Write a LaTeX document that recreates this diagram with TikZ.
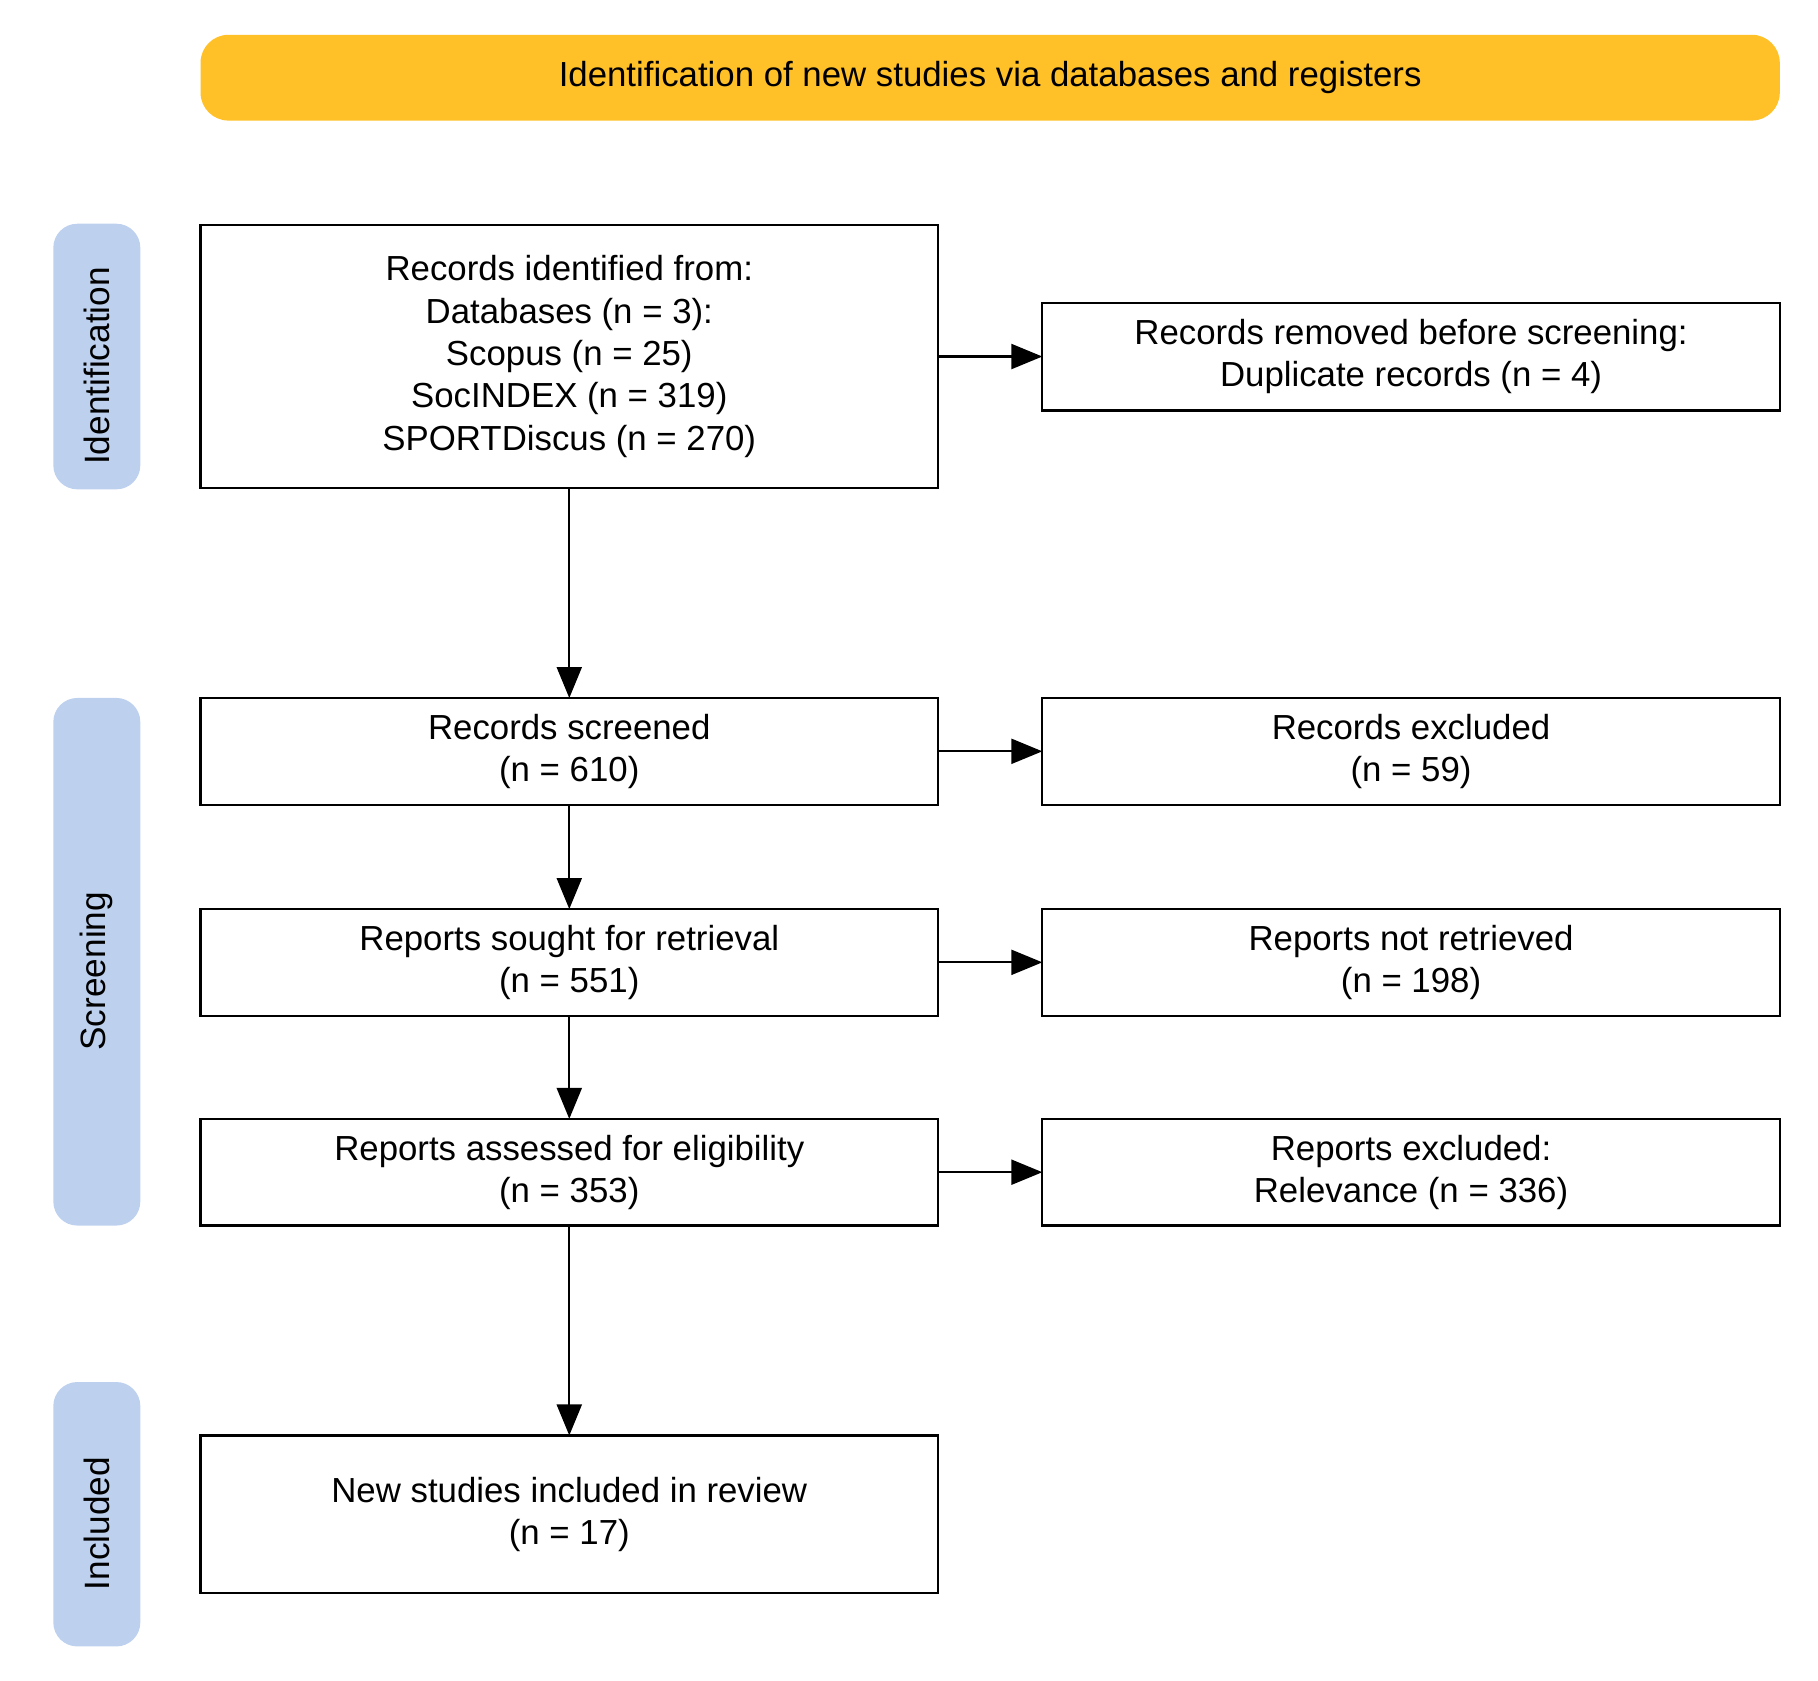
\documentclass[tikz,border=0pt]{standalone}
\usepackage{fontspec}
\setmainfont{Liberation Sans}
\usetikzlibrary{arrows.meta}
\definecolor{banneryellow}{RGB}{255,193,39}
\definecolor{sideblue}{RGB}{189,209,238}
\begin{document}
\begin{tikzpicture}[x=0.5797pt,y=-0.5797pt,
  font=\fontsize{17.4}{21.2}\selectfont,
  flowbox/.style={draw=black,line width=1.1pt,fill=white,rectangle,inner sep=0pt,outer sep=0pt,
    minimum width=368.7pt,align=center},
  sidebox/.style={fill=sideblue,rounded corners=12pt,inner sep=0pt,outer sep=0pt,
    minimum width=43.5pt,rotate=90,font=\fontsize{17.6}{20}\selectfont},
  link/.style={line width=1.1pt,-{Triangle[length=15.5pt,width=12.5pt]}}]
\useasboundingbox (0,0) rectangle (1568,1449);
% banner
\node[fill=banneryellow,rounded corners=14pt,minimum width=789.6pt,minimum height=42.9pt,inner sep=0pt] (banner) at (854,67) {Identification of new studies via databases and registers};
% side labels
\node[sidebox,minimum width=132.8pt,minimum height=43.5pt] (sideI) at (83.5,307.5) {Identification\rule{9.5pt}{0pt}};
\node[sidebox,minimum width=263.8pt,minimum height=43.5pt] (sideS) at (83.5,829.5) {Screening\rule{9.5pt}{0pt}};
\node[sidebox,minimum width=132.2pt,minimum height=43.5pt] (sideInc) at (83.5,1306) {Included\rule{9.5pt}{0pt}};
% boxes
\node[flowbox,minimum height=131.6pt] (ident) at (491,307.5) {Records identified from:\\Databases (n = 3):\\Scopus (n = 25)\\SocINDEX (n = 319)\\SPORTDiscus (n = 270)};
\node[flowbox,minimum height=53.9pt] (removed) at (1217,307.5) {Records removed before screening:\\Duplicate records (n = 4)};
\node[flowbox,minimum height=53.3pt] (screened) at (491,648) {Records screened\\(n = 610)};
\node[flowbox,minimum height=53.3pt] (excluded) at (1217,648) {Records excluded\\(n = 59)};
\node[flowbox,minimum height=53.3pt] (sought) at (491,830) {Reports sought for retrieval\\(n = 551)};
\node[flowbox,minimum height=53.3pt] (notret) at (1217,830) {Reports not retrieved\\(n = 198)};
\node[flowbox,minimum height=53.3pt] (assessed) at (491,1011) {Reports assessed for eligibility\\(n = 353)};
\node[flowbox,minimum height=53.3pt] (repexcl) at (1217,1011) {Reports excluded:\\Relevance (n = 336)};
\node[flowbox,minimum height=78.8pt] (included) at (491,1306) {New studies included in review\\(n = 17)};
% connectors
\draw[link] (ident.east) -- (removed.west);
\draw[link] (ident.south) -- (screened.north);
\draw[link] (screened.east) -- (excluded.west);
\draw[link] (screened.south) -- (sought.north);
\draw[link] (sought.east) -- (notret.west);
\draw[link] (sought.south) -- (assessed.north);
\draw[link] (assessed.east) -- (repexcl.west);
\draw[link] (assessed.south) -- (included.north);
\end{tikzpicture}
\end{document}
